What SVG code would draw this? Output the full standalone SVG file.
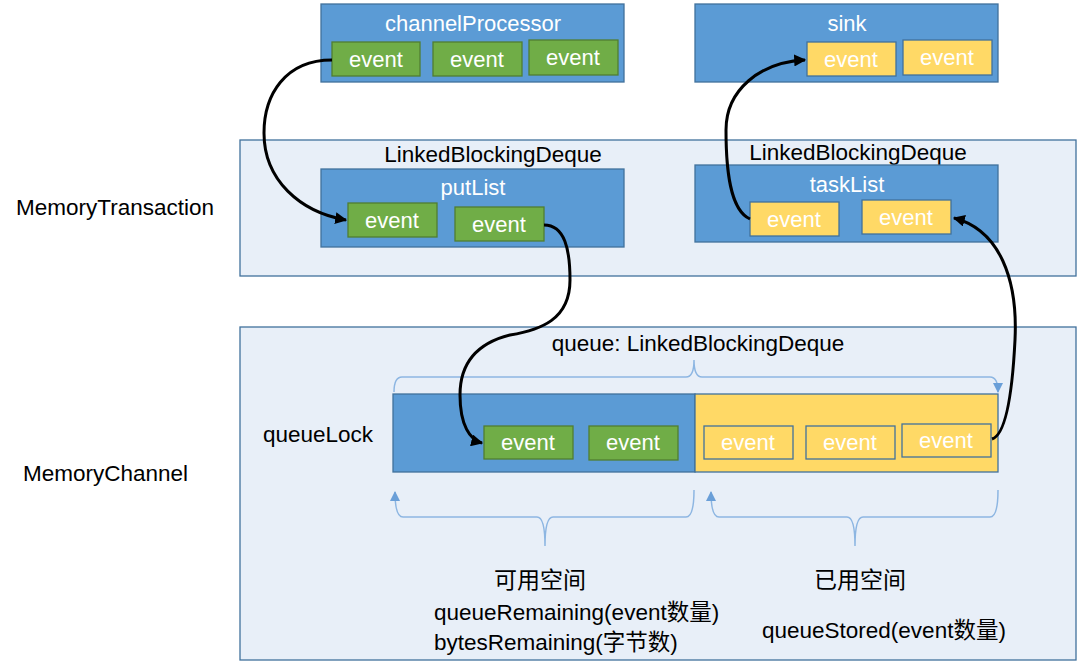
<svg xmlns="http://www.w3.org/2000/svg" width="1077" height="671" viewBox="0 0 1077 671">
<style>
text{font-family:"Liberation Sans","Noto Sans CJK SC",sans-serif;}
.lbl{font-size:22.5px;fill:#000;}
.ttl{font-size:22px;fill:#fff;text-anchor:middle;}
.ev{font-size:22px;fill:#fff;text-anchor:middle;}
.outer{fill:#E8EFF8;stroke:#41719C;stroke-width:1.3;}
.blue{fill:#5B9BD5;stroke:#41719C;stroke-width:1.3;}
.green{fill:#70AD47;stroke:#507E32;stroke-width:1.3;}
.yel{fill:#FFD966;stroke:#41719C;stroke-width:1.3;}
.yelbar{fill:#FFD966;stroke:#41719C;stroke-width:1.3;}
.conn{fill:none;stroke:#000;stroke-width:3;marker-end:url(#ah);}
.brace{fill:none;stroke:#8DB6E2;stroke-width:1.5;}
.cn{font-size:23px;fill:#000;text-anchor:middle;}
</style>
<defs>
<marker id="ah" viewBox="0 0 10 10" refX="9" refY="5" markerWidth="4" markerHeight="4" orient="auto" markerUnits="strokeWidth">
<path d="M0,0 L10,5 L0,10 z" fill="#000"/>
</marker>
<marker id="bh" viewBox="0 0 10 10" refX="9" refY="5" markerWidth="7" markerHeight="7" orient="auto-start-reverse" markerUnits="strokeWidth">
<path d="M0,0 L10,5 L0,10 z" fill="#6A9FD8"/>
</marker>
</defs>
<rect width="1077" height="671" fill="#fff"/>

<g id="memoryTransaction">
<rect class="outer" x="240" y="140" width="836" height="136"/>
<text class="lbl" x="16" y="215">MemoryTransaction</text>
<text class="lbl" x="493" y="162" text-anchor="middle">LinkedBlockingDeque</text>
<text class="lbl" x="858" y="160" text-anchor="middle">LinkedBlockingDeque</text>
</g>

<g id="memoryChannel">
<rect class="outer" x="240" y="327" width="836" height="333"/>
<text class="lbl" x="23" y="481">MemoryChannel</text>
<text class="lbl" x="263" y="442">queueLock</text>
<text class="lbl" x="698" y="351" text-anchor="middle">queue: LinkedBlockingDeque</text>
</g>

<g id="channelProcessor">
<rect class="blue" x="321" y="4" width="303" height="78"/>
<text class="ttl" x="473" y="31">channelProcessor</text>
<rect class="green" x="332" y="42" width="88" height="34"/>
<text class="ev" x="376" y="67">event</text>
<rect class="green" x="433" y="42" width="89" height="34"/>
<text class="ev" x="477" y="67">event</text>
<rect class="green" x="529" y="40" width="89" height="35"/>
<text class="ev" x="573" y="65">event</text>
</g>

<g id="sink">
<rect class="blue" x="695" y="4" width="303" height="78"/>
<text class="ttl" x="847" y="31">sink</text>
<rect class="yel" x="807" y="42" width="89" height="34"/>
<text class="ev" x="851" y="67">event</text>
<rect class="yel" x="903" y="40" width="89" height="35"/>
<text class="ev" x="947" y="65">event</text>
</g>

<g id="putList">
<rect class="blue" x="321" y="169" width="303" height="78"/>
<text class="ttl" x="473" y="195">putList</text>
<rect class="green" x="348" y="203" width="89" height="34"/>
<text class="ev" x="392" y="228">event</text>
<rect class="green" x="455" y="207" width="89" height="34"/>
<text class="ev" x="499" y="232">event</text>
</g>

<g id="taskList">
<rect class="blue" x="695" y="165" width="303" height="77"/>
<text class="ttl" x="847" y="192">taskList</text>
<rect class="yel" x="750" y="202" width="89" height="34"/>
<text class="ev" x="794" y="227">event</text>
<rect class="yel" x="862" y="200" width="89" height="34"/>
<text class="ev" x="906" y="225">event</text>
</g>

<g id="queue">
<rect class="blue" x="393" y="394" width="302" height="78"/>
<rect class="yelbar" x="695" y="394" width="303" height="78"/>
<rect class="green" x="484" y="426" width="89" height="33"/>
<text class="ev" x="528" y="450">event</text>
<rect class="green" x="589" y="426" width="89" height="34"/>
<text class="ev" x="633" y="450">event</text>
<rect class="yel" x="704" y="426" width="89" height="33"/>
<text class="ev" x="748" y="450">event</text>
<rect class="yel" x="806" y="426" width="89" height="33"/>
<text class="ev" x="850" y="450">event</text>
<rect class="yel" x="902" y="424" width="89" height="33"/>
<text class="ev" x="946" y="448">event</text>
</g>

<g id="braces">
<path class="brace" marker-end="url(#bh)" d="M394,392 Q394,377 402,377 L686,377 Q694,377 694,360 Q694,377 702,377 L990,377 Q998,377 998,392"/>
<path class="brace" marker-start="url(#bh)" d="M395,492 Q395,517 403,517 L537,517 Q545,517 545,546 Q545,517 553,517 L686,517 Q694,517 694,490"/>
<path class="brace" marker-start="url(#bh)" d="M711,492 Q711,517 719,517 L847,517 Q855,517 855,546 Q855,517 863,517 L990,517 Q998,517 998,490"/>
</g>

<g id="spaceLabels">
<text class="cn" x="540" y="588">可用空间</text>
<text class="lbl" x="434" y="620">queueRemaining(event数量)</text>
<text class="lbl" x="434" y="650">bytesRemaining(字节数)</text>
<text class="cn" x="860" y="588">已用空间</text>
<text class="lbl" x="762" y="638">queueStored(event数量)</text>
</g>

<g id="connectors">
<path class="conn" d="M332,60 C285,60 264,95 264,133 C264,180 300,212 346,220"/>
<path class="conn" d="M544,225 C565,225 570,250 570,280 C570,320 540,330 510,335 C470,345 460,370 460,395 C460,425 470,440 482,443"/>
<path class="conn" d="M750,219 C730,210 726,170 726,130 C726,90 760,62 805,60"/>
<path class="conn" d="M992,439 C1005,435 1012,400 1015,340 C1018,280 1000,230 954,218"/>
</g>
</svg>
